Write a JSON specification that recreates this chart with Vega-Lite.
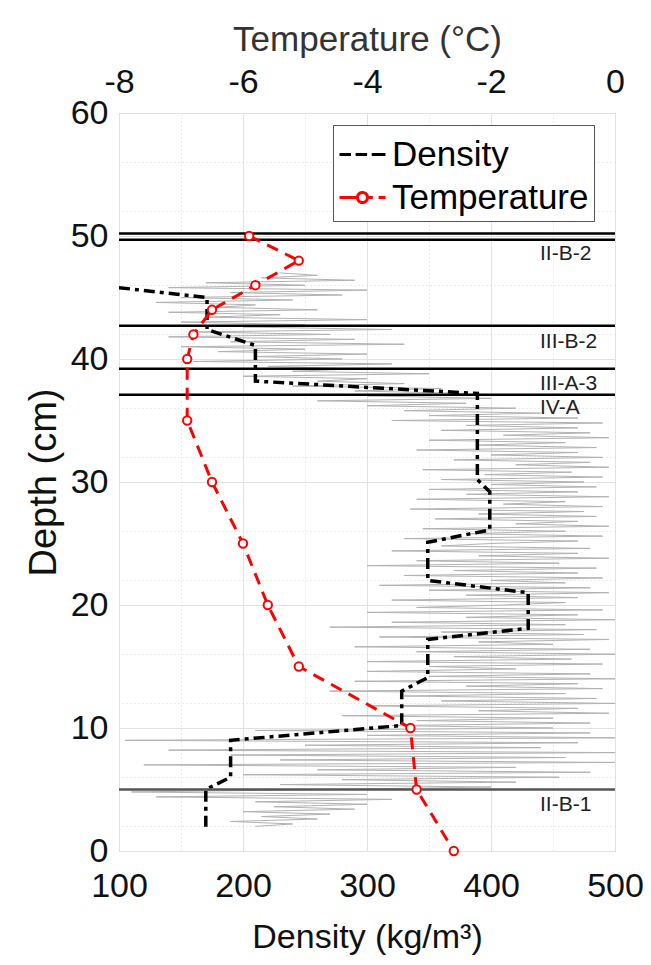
{
  "$schema": "https://vega.github.io/schema/vega-lite/v6.json",
  "width": 496,
  "height": 738,
  "autosize": {"type": "none"},
  "padding": {"left": 119, "top": 113, "right": 36, "bottom": 114},
  "background": "white",
  "config": {
    "view": {"stroke": "#9a9a9a", "strokeWidth": 1},
    "font": "Liberation Sans",
    "axis": {"labelFont": "Liberation Sans", "titleFont": "Liberation Sans", "labelColor": "#111", "titleColor": "#111", "titleFontWeight": "normal", "domain": false, "ticks": false, "labelOverlap": false, "labelBound": false}
  },
  "datasets": {
    "raw": [
      {"d":47.0,"v":230},{"d":46.8,"v":260},{"d":46.6,"v":215},{"d":46.4,"v":290},{"d":46.2,"v":170},{"d":46.0,"v":250},{"d":45.8,"v":140},{"d":45.6,"v":300},{"d":45.4,"v":190},{"d":45.2,"v":280},{"d":45.0,"v":150},
      {"d":44.8,"v":240},{"d":44.6,"v":130},{"d":44.4,"v":210},{"d":44.2,"v":180},{"d":44.0,"v":260},{"d":43.8,"v":140},{"d":43.6,"v":230},{"d":43.4,"v":170},{"d":43.2,"v":300},{"d":43.0,"v":150},{"d":42.8,"v":250},
      {"d":42.6,"v":200},{"d":42.4,"v":320},{"d":42.2,"v":160},{"d":42.0,"v":270},{"d":41.8,"v":140},{"d":41.6,"v":290},{"d":41.4,"v":190},{"d":41.2,"v":330},{"d":41.0,"v":150},{"d":40.8,"v":250},{"d":40.6,"v":180},{"d":40.4,"v":300},{"d":40.2,"v":210},{"d":40.0,"v":280},{"d":39.8,"v":160},{"d":39.6,"v":320},{"d":39.4,"v":220},{"d":39.2,"v":290},
      {"d":39.0,"v":240},{"d":38.8,"v":350},{"d":38.6,"v":200},{"d":38.4,"v":300},{"d":38.2,"v":260},{"d":38.0,"v":330},{"d":37.8,"v":240},{"d":37.6,"v":360},{"d":37.4,"v":290},{"d":37.2,"v":380},
      {"d":37.0,"v":300},{"d":36.8,"v":400},{"d":36.6,"v":260},{"d":36.4,"v":380},{"d":36.2,"v":300},{"d":36.0,"v":420},{"d":35.8,"v":330},{"d":35.6,"v":440},{"d":35.4,"v":350},{"d":35.2,"v":470},{"d":35.0,"v":320},
      {"d":34.8,"v":490},{"d":34.6,"v":380},{"d":34.4,"v":470},{"d":34.2,"v":360},{"d":34.0,"v":480},{"d":33.8,"v":410},{"d":33.6,"v":495},{"d":33.4,"v":350},{"d":33.2,"v":460},{"d":33.0,"v":390},{"d":32.8,"v":485},{"d":32.6,"v":340},{"d":32.4,"v":470},{"d":32.2,"v":400},{"d":32.0,"v":490},{"d":31.8,"v":370},{"d":31.6,"v":480},{"d":31.4,"v":420},{"d":31.2,"v":495},{"d":31.0,"v":345},{"d":30.8,"v":465},{"d":30.6,"v":395},{"d":30.4,"v":490},{"d":30.2,"v":360},{"d":30.0,"v":475},
      {"d":29.8,"v":400},{"d":29.6,"v":485},{"d":29.4,"v":350},{"d":29.2,"v":470},{"d":29.0,"v":380},{"d":28.8,"v":495},{"d":28.6,"v":340},{"d":28.4,"v":460},{"d":28.2,"v":410},{"d":28.0,"v":490},{"d":27.8,"v":335},{"d":27.6,"v":475},{"d":27.4,"v":390},{"d":27.2,"v":485},{"d":27.0,"v":355},{"d":26.8,"v":470},{"d":26.6,"v":420},{"d":26.4,"v":495},{"d":26.2,"v":345},{"d":26.0,"v":460},{"d":25.8,"v":380},{"d":25.6,"v":490},{"d":25.4,"v":330},{"d":25.2,"v":470},{"d":25.0,"v":400},
      {"d":24.8,"v":360},{"d":24.6,"v":480},{"d":24.4,"v":320},{"d":24.2,"v":470},{"d":24.0,"v":390},{"d":23.8,"v":495},{"d":23.6,"v":340},{"d":23.4,"v":455},{"d":23.2,"v":300},{"d":23.0,"v":485},{"d":22.8,"v":370},{"d":22.6,"v":470},{"d":22.4,"v":330},{"d":22.2,"v":490},{"d":22.0,"v":400},{"d":21.8,"v":460},{"d":21.6,"v":310},{"d":21.4,"v":480},{"d":21.2,"v":350},{"d":21.0,"v":495},{"d":20.8,"v":380},{"d":20.6,"v":470},{"d":20.4,"v":320},{"d":20.2,"v":460},{"d":20.0,"v":410},
      {"d":19.8,"v":340},{"d":19.6,"v":490},{"d":19.4,"v":300},{"d":19.2,"v":470},{"d":19.0,"v":380},{"d":18.8,"v":500},{"d":18.6,"v":320},{"d":18.4,"v":460},{"d":18.2,"v":270},{"d":18.0,"v":485},{"d":17.8,"v":360},{"d":17.6,"v":475},{"d":17.4,"v":310},{"d":17.2,"v":495},{"d":17.0,"v":390},{"d":16.8,"v":450},{"d":16.6,"v":290},{"d":16.4,"v":480},{"d":16.2,"v":340},{"d":16.0,"v":500},{"d":15.8,"v":370},{"d":15.6,"v":465},{"d":15.4,"v":300},{"d":15.2,"v":490},{"d":15.0,"v":350},
      {"d":14.8,"v":420},{"d":14.6,"v":300},{"d":14.4,"v":480},{"d":14.2,"v":350},{"d":14.0,"v":500},{"d":13.8,"v":290},{"d":13.6,"v":470},{"d":13.4,"v":380},{"d":13.2,"v":490},{"d":13.0,"v":270},{"d":12.8,"v":460},{"d":12.6,"v":330},{"d":12.4,"v":485},{"d":12.2,"v":360},{"d":12.0,"v":500},{"d":11.8,"v":300},{"d":11.6,"v":470},{"d":11.4,"v":390},{"d":11.2,"v":495},{"d":11.0,"v":280},{"d":10.8,"v":450},{"d":10.6,"v":340},{"d":10.4,"v":480},{"d":10.2,"v":320},
      {"d":10.0,"v":450},{"d":9.8,"v":210},{"d":9.6,"v":480},{"d":9.4,"v":300},{"d":9.2,"v":500},{"d":9.0,"v":105},{"d":8.8,"v":470},{"d":8.6,"v":250},{"d":8.4,"v":440},{"d":8.2,"v":140},{"d":8.0,"v":500},{"d":7.8,"v":190},{"d":7.6,"v":460},{"d":7.4,"v":230},{"d":7.2,"v":500},{"d":7.0,"v":120},{"d":6.8,"v":420},{"d":6.6,"v":260},{"d":6.4,"v":480},{"d":6.2,"v":200},{"d":6.0,"v":455},{"d":5.8,"v":280},{"d":5.6,"v":420},{"d":5.4,"v":230},{"d":5.2,"v":400},
      {"d":5.0,"v":270},{"d":4.8,"v":110},{"d":4.6,"v":300},{"d":4.4,"v":130},{"d":4.2,"v":320},{"d":4.0,"v":210},{"d":3.8,"v":300},{"d":3.6,"v":225},{"d":3.4,"v":290},{"d":3.2,"v":200},{"d":3.0,"v":270},{"d":2.8,"v":215},{"d":2.6,"v":260},{"d":2.4,"v":190},{"d":2.2,"v":240},{"d":2.0,"v":210}
    ],
    "density": [
      {"d":45.8,"v":100},{"d":45.0,"v":171},{"d":42.4,"v":171},{"d":41.1,"v":210},{"d":38.2,"v":210},{"d":37.2,"v":389},{"d":30.2,"v":389},{"d":29.2,"v":399},{"d":26.1,"v":399},{"d":25.1,"v":349},{"d":22.0,"v":349},{"d":21.0,"v":430},{"d":18.1,"v":430},{"d":17.2,"v":349},{"d":14.1,"v":349},{"d":13.0,"v":328},{"d":10.2,"v":328},{"d":9.0,"v":190},{"d":6.0,"v":190},{"d":5.0,"v":170},{"d":1.9,"v":170}
    ],
    "temperature": [
      {"d":50,"t":-5.9},{"d":48,"t":-5.1},{"d":46,"t":-5.8},{"d":44,"t":-6.5},{"d":42,"t":-6.8},{"d":40,"t":-6.9},{"d":35,"t":-6.9},{"d":30,"t":-6.5},{"d":25,"t":-6.0},{"d":20,"t":-5.6},{"d":15,"t":-5.1},{"d":10,"t":-3.3},{"d":5,"t":-3.2},{"d":0,"t":-2.6}
    ],
    "boundaries": [
      {"d":50.2},{"d":49.7},{"d":42.7},{"d":39.2},{"d":37.1},{"d":5.0}
    ],
    "units": [
      {"d":48.5,"v":439.5,"name":"II-B-2"},{"d":41.4,"v":439.5,"name":"III-B-2"},{"d":38.0,"v":439.5,"name":"III-A-3"},{"d":36.0,"v":439.5,"name":"IV-A"},{"d":3.7,"v":439.5,"name":"II-B-1"}
    ]
  },
  "layer": [
    {
      "layer": [
        {
          "data": {"name": "raw"},
          "mark": {"type": "line", "color": "#b2b2b2", "strokeWidth": 1, "clip": true},
          "encoding": {
            "x": {"field": "v", "type": "quantitative",
              "scale": {"domain": [100, 500], "nice": false, "zero": false},
              "axis": {
                "orient": "bottom",
                "values": [100,125,150,175,200,225,250,275,300,325,350,375,400,425,450,475,500],
                "labelExpr": "datum.value % 100 === 0 ? datum.value + '' : ''",
                "labelFontSize": 34, "labelPadding": 18, "labelFlush": false, "labelOverlap": false,
                "title": "Density (kg/m³)", "titleFontSize": 34, "titleX": 248, "titleY": 96, "titleBaseline": "alphabetic", "titleAlign": "center",
                "grid": true,
                "gridColor": {"condition": {"test": "datum.value % 100 === 0", "value": "#e2e2e2"}, "value": "#d6d6d6"},
                "gridDash": {"condition": {"test": "datum.value % 100 === 0", "value": []}, "value": [1, 3]},
                "gridWidth": 1
              }
            },
            "y": {"field": "d", "type": "quantitative",
              "scale": {"domain": [0, 60], "nice": false, "zero": false},
              "axis": {
                "orient": "left",
                "values": [0, 10, 20, 30, 40, 50, 60],
                "labelFontSize": 34, "labelPadding": 11, "labelFlush": false, "labelOverlap": false,
                "title": "Depth (cm)", "titleFontSize": 38, "titleAngle": -90, "titleX": -64, "titleY": 369, "titleBaseline": "alphabetic", "titleAlign": "center",
                "grid": true, "gridColor": "#e2e2e2", "gridWidth": 1
              }
            },
            "order": {"field": "d", "sort": "descending"}
          }
        },
        {
          "data": {"name": "density"},
          "mark": {"type": "line", "strokeWidth": 3.5, "strokeDash": [11, 5, 4, 5], "clip": true},
          "encoding": {
            "x": {"field": "v", "type": "quantitative"},
            "y": {"field": "d", "type": "quantitative"},
            "order": {"field": "d", "sort": "descending"},
            "color": {"datum": "Density", "type": "nominal",
              "scale": {"domain": ["Density", "Temperature"], "range": ["#000000", "#ff0000"]},
              "legend": {
                "title": null, "orient": "none", "legendX": 214, "legendY": 12, "direction": "vertical",
                "fillColor": "white", "strokeColor": "#555", "padding": 5,
                "symbolType": "stroke", "symbolSize": 2116, "symbolStrokeWidth": 3,
                "labelFontSize": 35, "labelFont": "Liberation Sans", "labelColor": "#000", "labelOffset": 5, "labelLimit": 400, "rowPadding": -6,
                "encode": {"symbols": {"update": {
                  "shape": {"signal": "datum.value === 'Temperature' ? 'M-1,0H-0.22M0.22,0H0.45M0.7,0H1M-0.22,0A0.22,0.22,0,1,1,0.22,0A0.22,0.22,0,1,1,-0.22,0' : 'M-1,0H-0.5M-0.3,0H0.2M0.4,0H1'"},
                  "strokeDash": {"value": [1, 0]},
                  "fill": {"value": "white"},
                  "strokeWidth": {"value": 3}
                }}}
              }
            }
          }
        },
        {
          "data": {"name": "boundaries"},
          "mark": {"type": "rule", "strokeWidth": 2.5},
          "encoding": {
            "y": {"field": "d", "type": "quantitative"},
            "color": {"condition": {"test": "datum.d < 10", "value": "#555555"}, "value": "#000000"}
          }
        },
        {
          "data": {"name": "units"},
          "mark": {"type": "text", "align": "left", "baseline": "middle", "fontSize": 21, "font": "Liberation Sans", "color": "#222"},
          "encoding": {
            "x": {"field": "v", "type": "quantitative"},
            "y": {"field": "d", "type": "quantitative"},
            "text": {"field": "name"}
          }
        }
      ]
    },
    {
      "layer": [
        {
          "data": {"name": "temperature"},
          "mark": {"type": "line", "strokeWidth": 3, "strokeDash": [12, 8], "clip": true},
          "encoding": {
            "x": {"field": "t", "type": "quantitative",
              "scale": {"domain": [-8, 0], "nice": false, "zero": false},
              "axis": {
                "orient": "top",
                "values": [-8, -6, -4, -2, 0],
                "labelExpr": "datum.value < 0 ? '-' + abs(datum.value) : '0'",
                "labelFontSize": 34, "labelPadding": 14, "labelFlush": false, "labelOverlap": false,
                "title": "Temperature (°C)", "titleFontSize": 35, "titleColor": "#333", "titlePadding": 8,
                "grid": false
              }
            },
            "y": {"field": "d", "type": "quantitative",
              "axis": {
                "orient": "right",
                "values": [2,4,6,8,12,14,16,18,22,24,26,28,32,34,36,38,42,44,46,48,52,54,56,58],
                "labels": false, "title": null, "ticks": false, "domain": false,
                "grid": true, "gridColor": "#d6d6d6", "gridDash": [1, 3], "gridWidth": 1
              }
            },
            "order": {"field": "d", "sort": "descending"},
            "color": {"datum": "Temperature", "type": "nominal"}
          }
        },
        {
          "data": {"name": "temperature"},
          "mark": {"type": "point", "shape": "circle", "filled": false, "fill": "white", "fillOpacity": 1, "stroke": "#ff0000", "strokeWidth": 2, "size": 70, "opacity": 1},
          "encoding": {
            "x": {"field": "t", "type": "quantitative"},
            "y": {"field": "d", "type": "quantitative"}
          }
        }
      ]
    }
  ],
  "resolve": {"scale": {"x": "independent", "y": "shared"}, "axis": {"x": "independent", "y": "independent"}}
}
